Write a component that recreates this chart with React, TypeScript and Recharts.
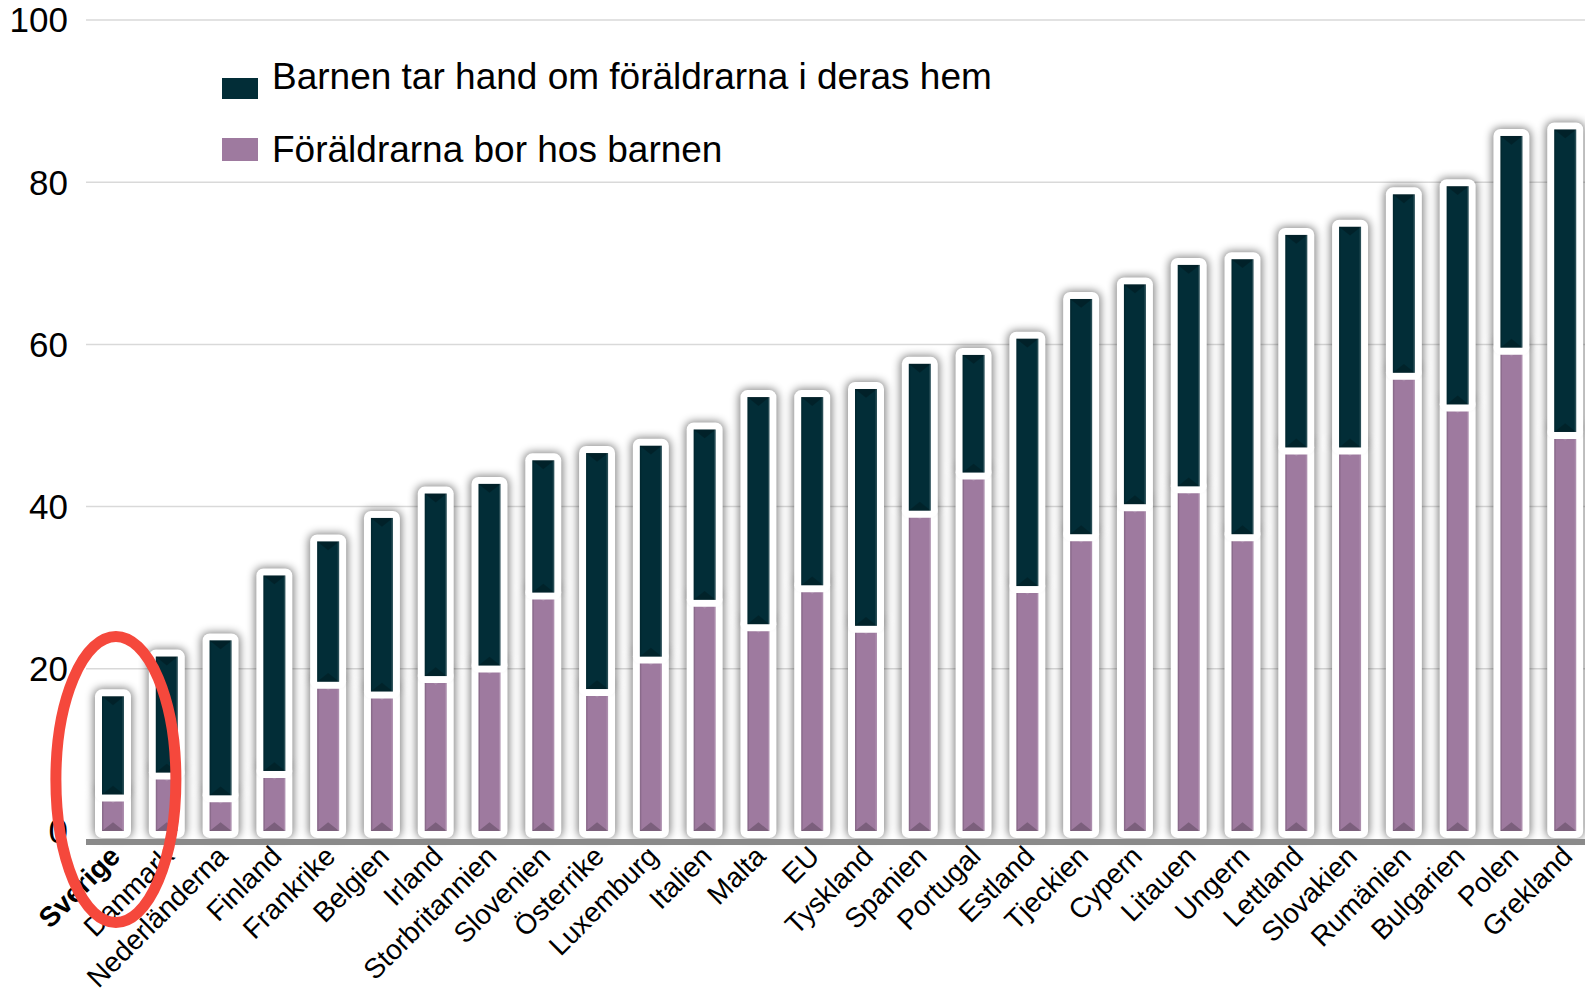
import { Bar, BarChart, CartesianGrid, Legend, ReferenceDot, XAxis, YAxis } from 'recharts'

const LAND = [
  'Sverige', 'Danmark', 'Nederländerna', 'Finland', 'Frankrike', 'Belgien', 'Irland',
  'Storbritannien', 'Slovenien', 'Österrike', 'Luxemburg', 'Italien', 'Malta', 'EU',
  'Tyskland', 'Spanien', 'Portugal', 'Estland', 'Tjeckien', 'Cypern', 'Litauen',
  'Ungern', 'Lettland', 'Slovakien', 'Rumänien', 'Bulgarien', 'Polen', 'Grekland',
]

// Föräldrarna bor hos barnen (nedre, lila)
const BOR_HOS_BARNEN = [
  4.5, 7.2, 4.4, 7.4, 18.4, 17.2, 19.1, 20.4, 29.4, 17.5, 21.5, 28.5, 25.5, 30.3,
  25.3, 39.5, 44.2, 30.2, 36.6, 40.3, 42.5, 36.6, 47.3, 47.3, 56.5, 52.6, 59.6, 49.2,
]

// Barnen tar hand om föräldrarna i deras hem (övre, mörk)
const I_DERAS_HEM = [
  12.1, 14.3, 19.1, 24.1, 17.3, 21.4, 22.5, 22.4, 16.3, 29.1, 26.0, 21.0, 28.0, 23.2,
  29.2, 18.1, 14.5, 30.5, 29.0, 27.1, 27.3, 33.9, 26.2, 27.2, 22.0, 26.9, 26.1, 37.3,
]

const Y_TICKS = [0, 20, 40, 60, 80, 100]
const GRID_VALUES = [20, 40, 60, 80, 100]

const HEM_NAME = 'Barnen tar hand om föräldrarna i deras hem'
const HOS_NAME = 'Föräldrarna bor hos barnen'

const DARK = '#022d37'
const PURPLE = '#9e7a9f'
const FONT = '"Liberation Sans", Arial, sans-serif'

const data = LAND.map((land, i) => ({
  land,
  hos: BOR_HOS_BARNEN[i],
  hem: I_DERAS_HEM[i],
}))

// white frame drawn outside the value rect, soft shadow under it
function segment(props: any, top: boolean) {
  const { x, y, width, height, fill } = props
  if (!height || height <= 0) return <g />
  const b = 7
  const shadowH = top ? height + b : height + 2 * b + 1
  const bev = Math.min(width * 0.4, height / 2)
  return (
    <g>
      <rect x={x - b - 1.5} y={y - b - 1} width={width + 2 * b + 3} height={shadowH} rx={8} fill="#000" opacity={0.5} filter="url(#barShadow)" />
      <rect x={x - b} y={y - b} width={width + 2 * b} height={height + 2 * b} rx={7} fill="#fff" />
      <rect x={x} y={y} width={width} height={height} fill={fill} />
      <polygon points={`${x},${y} ${x + width},${y} ${x + width / 2},${y + bev}`} fill={top ? '#000' : '#fff'} opacity={top ? 0.25 : 0.12} />
      <polygon points={`${x},${y + height} ${x + width},${y + height} ${x + width / 2},${y + height - bev}`} fill="#000" opacity={0.22} />
      <rect x={x} y={y} width={1.5} height={height} fill="#000" opacity={0.12} />
      <rect x={x + width - 1.5} y={y} width={1.5} height={height} fill="#fff" opacity={0.15} />
    </g>
  )
}

function LandTick(props: any) {
  const { x, y, payload } = props
  const tx = x + 2
  const ty = y + 9
  return (
    <text
      x={tx}
      y={ty}
      dy="0.35em"
      textAnchor="end"
      transform={`rotate(-45, ${tx}, ${ty})`}
      fontSize={28}
      fontFamily={FONT}
      fontWeight={payload.value === 'Sverige' ? 'bold' : 'normal'}
      fill="#000"
    >
      {payload.value}
    </text>
  )
}

function renderLegend(props: any) {
  const payload = props.payload ?? []
  const items = [HEM_NAME, HOS_NAME]
    .map((name) => payload.find((p: any) => p.value === name))
    .filter(Boolean)
  return (
    <div style={{ position: 'relative', width: 800, height: 150, fontFamily: FONT }}>
      {items.map((item: any, i: number) => (
        <div key={item.value}>
          <div
            style={{
              position: 'absolute',
              left: 0,
              top: i === 0 ? 20 : 80,
              width: 36,
              height: i === 0 ? 21 : 23,
              background: item.color,
            }}
          />
          <div
            style={{
              position: 'absolute',
              left: 50,
              top: i * 73,
              fontSize: 37,
              lineHeight: '37px',
              color: '#000',
              whiteSpace: 'nowrap',
            }}
          >
            {item.value}
          </div>
        </div>
      ))}
    </div>
  )
}

export default function App() {
  return (
    <div style={{ position: 'fixed', left: 0, top: 0, width: 1585, height: 994, overflow: 'hidden', background: '#fff' }}>
      <BarChart
        width={1600}
        height={994}
        data={data}
        margin={{ top: 20, right: 8, bottom: 0, left: 0 }}
        barSize={22}
      >
        <defs>
          <filter id="barShadow" filterUnits="userSpaceOnUse" x={0} y={0} width={1600} height={994}>
            <feGaussianBlur stdDeviation={4.5} />
          </filter>
        </defs>
        <CartesianGrid vertical={false} horizontalValues={GRID_VALUES} stroke="#d9d9d9" strokeWidth={1.5} />
        <XAxis
          dataKey="land"
          interval={0}
          height={152}
          tickLine={false}
          tickSize={0}
          tickMargin={0}
          axisLine={{ stroke: '#8a8a8a', strokeWidth: 6 }}
          tick={<LandTick />}
        />
        <YAxis
          width={86}
          domain={[-1.36, 100]}
          ticks={Y_TICKS}
          axisLine={false}
          tickLine={false}
          tickSize={0}
          tickMargin={18}
          tick={{ fontSize: 35, fill: '#000', fontFamily: FONT }}
        />
        <Legend
          layout="vertical"
          align="center"
          verticalAlign="middle"
          wrapperStyle={{ left: 222, top: 58, width: 800 }}
          content={renderLegend}
        />
        <Bar
          dataKey="hos"
          name={HOS_NAME}
          stackId="a"
          fill={PURPLE}
          isAnimationActive={false}
          shape={(p: any) => segment(p, false)}
        />
        <Bar
          dataKey="hem"
          name={HEM_NAME}
          stackId="a"
          fill={DARK}
          isAnimationActive={false}
          shape={(p: any) => segment(p, true)}
        />
        <ReferenceDot
          x="Sverige"
          y={6.35}
          ifOverflow="visible"
          zIndex={2500}
          shape={(p: any) => (
            <ellipse cx={p.cx + 3} cy={p.cy} rx={60} ry={143} fill="none" stroke="#f5483c" strokeWidth={11} />
          )}
        />
      </BarChart>
    </div>
  )
}
